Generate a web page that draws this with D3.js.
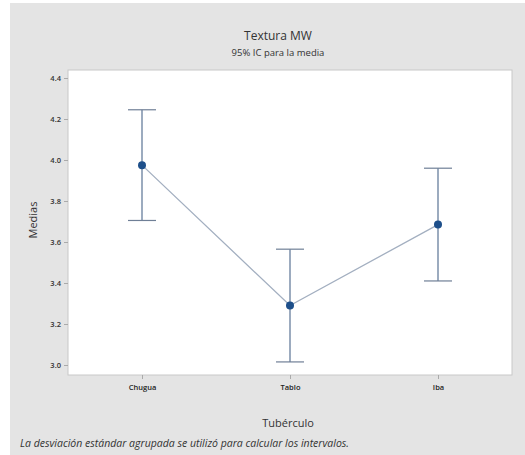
<!DOCTYPE html>
<html>
<head>
<meta charset="utf-8">
<script src="https://cdn.jsdelivr.net/npm/d3@7"></script>
<style>
  body { margin: 0; background: #fff; }
  text { font-family: "Open Sans", "Noto Sans", sans-serif; }
</style>
</head>
<body>
<div class="canva"></div>
<script>
// data
const groups = ["Chugua", "Tablo", "Iba"];
const means = [3.975, 3.29, 3.685];
const lower = [3.705, 3.015, 3.41];
const upper = [4.245, 3.565, 3.96];
const yTicks = [3.0, 3.2, 3.4, 3.6, 3.8, 4.0, 4.2, 4.4];

const W = 525, H = 455;
const svg = d3.select(".canva").append("svg")
  .attr("width", W)
  .attr("height", H);

// gray panel
svg.append("rect")
  .attr("x", 10).attr("y", 3)
  .attr("width", W - 10).attr("height", H - 3)
  .attr("fill", "#e4e4e4");

const plot = { left: 68, right: 512, top: 70, bottom: 375 };

svg.append("rect")
  .attr("x", plot.left).attr("y", plot.top)
  .attr("width", plot.right - plot.left)
  .attr("height", plot.bottom - plot.top)
  .attr("fill", "#fff")
  .attr("stroke", "#c8c8c8");

const x = d3.scalePoint()
  .domain(groups)
  .range([142, 438]);

const y = d3.scaleLinear()
  .domain([3.0, 4.4])
  .range([365, 78]);

// y axis
const yAxis = svg.append("g")
  .attr("transform", `translate(${plot.left},0)`)
  .call(d3.axisLeft(y).tickValues(yTicks).tickFormat(d3.format(".1f")).tickSize(4).tickPadding(3));
yAxis.select(".domain").remove();
yAxis.selectAll("line").attr("stroke", "#aaa");
yAxis.selectAll("text").attr("font-size", 7.5).attr("fill", "#333").attr("font-weight", 600);

// x axis
const xAxis = svg.append("g")
  .attr("transform", `translate(0,${plot.bottom})`)
  .call(d3.axisBottom(x).tickSize(4).tickPadding(6));
xAxis.select(".domain").remove();
xAxis.selectAll("line").attr("stroke", "#aaa");
xAxis.selectAll("text").attr("font-size", 7.5).attr("fill", "#222").attr("font-weight", 600);

// connecting line
const line = d3.line()
  .x((d, i) => x(groups[i]))
  .y(d => y(d));
svg.append("path")
  .datum(means)
  .attr("d", line)
  .attr("fill", "none")
  .attr("stroke", "#a3afc0")
  .attr("stroke-width", 1.3);

// error bars
const bars = svg.append("g");
groups.forEach((g, i) => {
  const cx = x(g);
  bars.append("line")
    .attr("x1", cx).attr("x2", cx)
    .attr("y1", y(lower[i])).attr("y2", y(upper[i]))
    .attr("stroke", "#5a7394").attr("stroke-width", 1.2);
  [lower[i], upper[i]].forEach(v => {
    bars.append("line")
      .attr("x1", cx - 14).attr("x2", cx + 14)
      .attr("y1", y(v)).attr("y2", y(v))
      .attr("stroke", "#6f7f96").attr("stroke-width", 1.2);
  });
});

// points
svg.append("g").selectAll("circle")
  .data(means)
  .join("circle")
  .attr("cx", (d, i) => x(groups[i]))
  .attr("cy", d => y(d))
  .attr("r", 4)
  .attr("fill", "#1d4f8a");

// titles
svg.append("text")
  .text("Textura MW")
  .attr("x", 278).attr("y", 40)
  .attr("text-anchor", "middle")
  .attr("font-size", 12)
  .attr("fill", "#333");

svg.append("text")
  .text("95% IC para la media")
  .attr("x", 278).attr("y", 56)
  .attr("text-anchor", "middle")
  .attr("font-size", 9.5)
  .attr("fill", "#333");

svg.append("text")
  .text("Tubérculo")
  .attr("x", 288).attr("y", 427)
  .attr("text-anchor", "middle")
  .attr("font-size", 11)
  .attr("fill", "#333");

svg.append("text")
  .text("Medias")
  .attr("transform", "translate(37,220) rotate(-90)")
  .attr("text-anchor", "middle")
  .attr("font-size", 11)
  .attr("fill", "#333");

svg.append("text")
  .text("La desviación estándar agrupada se utilizó para calcular los intervalos.")
  .attr("x", 20).attr("y", 447)
  .attr("font-size", 10.5)
  .attr("font-style", "italic")
  .attr("fill", "#333");
</script>
</body>
</html>
